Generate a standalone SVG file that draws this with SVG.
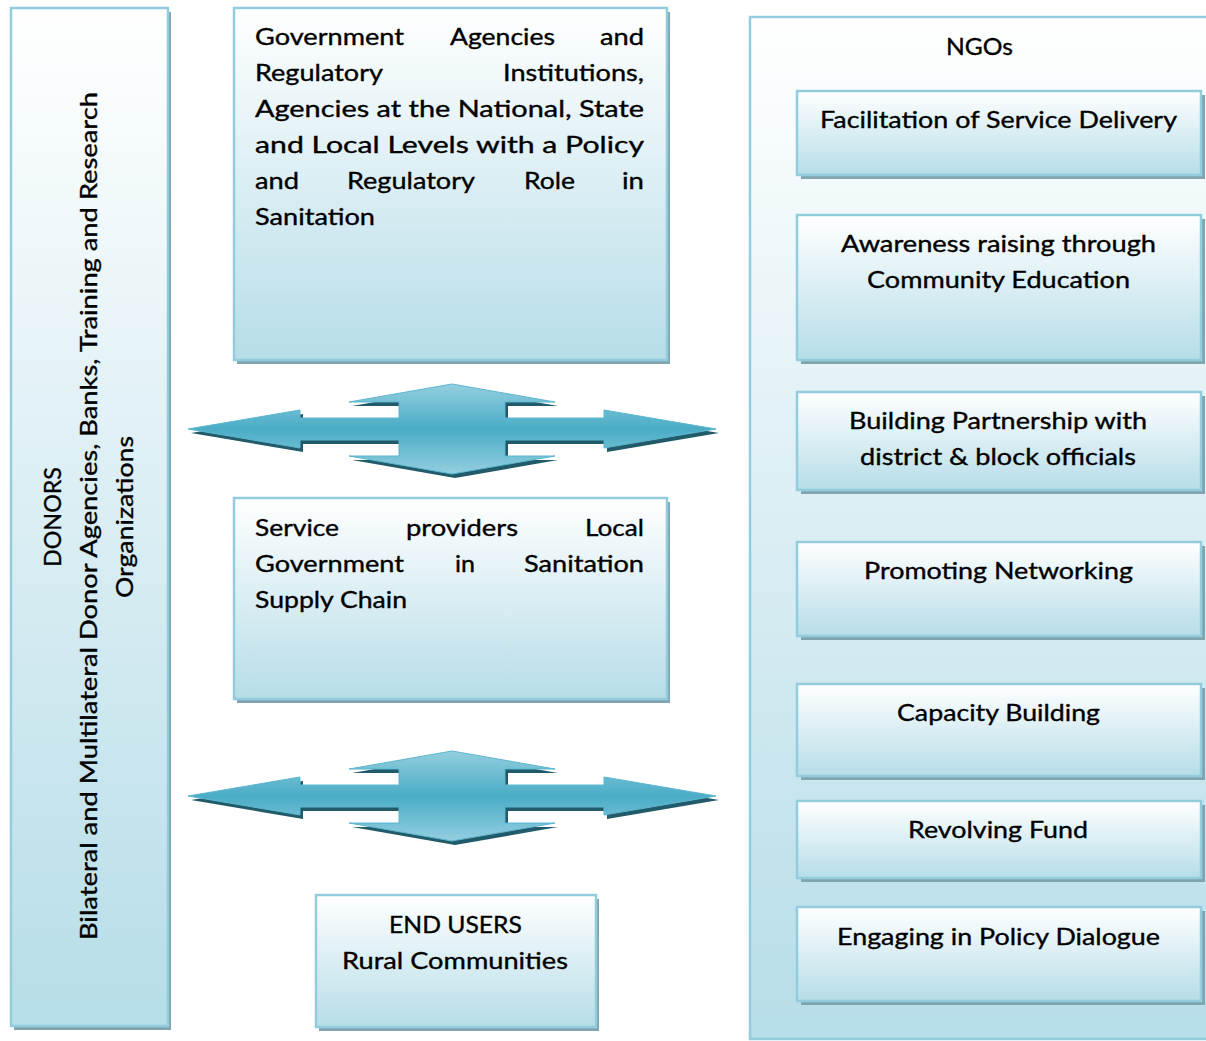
<svg xmlns="http://www.w3.org/2000/svg" width="1206" height="1041" viewBox="0 0 1206 1041">
<defs>
<linearGradient id="boxg" x1="0" y1="0" x2="0" y2="1">
<stop offset="0" stop-color="#ffffff"/>
<stop offset="1" stop-color="#b6dde8"/>
</linearGradient>
<linearGradient id="arrg" x1="0" y1="0" x2="0" y2="1">
<stop offset="0" stop-color="#93cfdf"/>
<stop offset="0.5" stop-color="#4aacc6"/>
<stop offset="1" stop-color="#93cfdf"/>
</linearGradient>
<path id="arrow" d="M-264,0 L-152,-19 L-152,-11 L-53,-11 L-53,-27 L-103,-27 L0,-45 L103,-27 L53,-27 L53,-11 L152,-11 L152,-19 L264,0 L152,19 L152,11 L53,11 L53,27 L103,27 L0,45 L-103,27 L-53,27 L-53,11 L-152,11 L-152,19 Z"/>
<clipPath id="page"><rect x="0" y="0" width="1206" height="1041"/></clipPath>
</defs>
<style>
.box{fill:url(#boxg);stroke:#93cddd;stroke-width:2.5}
.sh{fill:#7fa5af}
.t{font-family:Lato,"Open Sans","Liberation Sans",sans-serif;font-size:23px;fill:#000;stroke:#000;stroke-width:0.35}
.c{text-anchor:middle}
.e{text-anchor:end}
</style>

<g id="donors">
<rect class="sh" x="14" y="12" width="157" height="1018"/>
<rect class="box" x="11" y="8" width="157" height="1018"/>
<text class="t c" transform="translate(61,517) rotate(-90)" textLength="100" lengthAdjust="spacingAndGlyphs">DONORS</text>
<text class="t c" transform="translate(97,516) rotate(-90)" textLength="848" lengthAdjust="spacingAndGlyphs">Bilateral and Multilateral Donor Agencies, Banks, Training and Research</text>
<text class="t c" transform="translate(133,517) rotate(-90)" textLength="162" lengthAdjust="spacingAndGlyphs">Organizations</text>
</g>

<g id="government">
<rect class="sh" x="237" y="12" width="433" height="352"/>
<rect class="box" x="234" y="8" width="433" height="352"/>
<text class="t" x="255" y="45" textLength="149" lengthAdjust="spacingAndGlyphs">Government</text>
<text class="t" x="450" y="45" textLength="105" lengthAdjust="spacingAndGlyphs">Agencies</text>
<text class="t e" x="644" y="45" textLength="44" lengthAdjust="spacingAndGlyphs">and</text>
<text class="t" x="255" y="81" textLength="128" lengthAdjust="spacingAndGlyphs">Regulatory</text>
<text class="t e" x="644" y="81" textLength="141" lengthAdjust="spacingAndGlyphs">Institutions,</text>
<text class="t" x="255" y="117" textLength="389" lengthAdjust="spacingAndGlyphs">Agencies at the National, State</text>
<text class="t" x="255" y="153" textLength="389" lengthAdjust="spacingAndGlyphs">and Local Levels with a Policy</text>
<text class="t" x="255" y="189" textLength="44" lengthAdjust="spacingAndGlyphs">and</text>
<text class="t" x="347" y="189" textLength="128" lengthAdjust="spacingAndGlyphs">Regulatory</text>
<text class="t" x="524" y="189" textLength="51" lengthAdjust="spacingAndGlyphs">Role</text>
<text class="t e" x="644" y="189" textLength="22" lengthAdjust="spacingAndGlyphs">in</text>
<text class="t" x="255" y="225" textLength="120" lengthAdjust="spacingAndGlyphs">Sanitation</text>
</g>

<g id="service">
<rect class="sh" x="237" y="502" width="433" height="201"/>
<rect class="box" x="234" y="498" width="433" height="201"/>
<text class="t" x="255" y="536" textLength="84" lengthAdjust="spacingAndGlyphs">Service</text>
<text class="t" x="406" y="536" textLength="112" lengthAdjust="spacingAndGlyphs">providers</text>
<text class="t e" x="644" y="536" textLength="59" lengthAdjust="spacingAndGlyphs">Local</text>
<text class="t" x="255" y="572" textLength="149" lengthAdjust="spacingAndGlyphs">Government</text>
<text class="t" x="455" y="572" textLength="20" lengthAdjust="spacingAndGlyphs">in</text>
<text class="t e" x="644" y="572" textLength="120" lengthAdjust="spacingAndGlyphs">Sanitation</text>
<text class="t" x="255" y="608" textLength="152" lengthAdjust="spacingAndGlyphs">Supply Chain</text>
</g>

<g id="endusers">
<rect class="sh" x="319" y="899" width="280" height="132"/>
<rect class="box" x="316" y="895" width="280" height="132"/>
<text class="t c" x="455.5" y="933" textLength="133" lengthAdjust="spacingAndGlyphs">END USERS</text>
<text class="t c" x="455" y="969" textLength="226" lengthAdjust="spacingAndGlyphs">Rural Communities</text>
</g>

<g id="ngos" clip-path="url(#page)">
<rect class="box" x="750" y="17" width="480" height="1022"/>
<text class="t c" x="979.5" y="55" textLength="67" lengthAdjust="spacingAndGlyphs">NGOs</text>
</g>

<g id="ngo-facilitation">
<rect class="sh" x="801" y="95" width="404" height="84"/>
<rect class="box" x="797" y="91" width="404" height="84"/>
<text class="t c" x="998.5" y="128" textLength="357" lengthAdjust="spacingAndGlyphs">Facilitation of Service Delivery</text>
</g>

<g id="ngo-awareness">
<rect class="sh" x="801" y="219" width="404" height="145"/>
<rect class="box" x="797" y="215" width="404" height="145"/>
<text class="t c" x="998.5" y="252" textLength="315" lengthAdjust="spacingAndGlyphs">Awareness raising through</text>
<text class="t c" x="998.5" y="288" textLength="263" lengthAdjust="spacingAndGlyphs">Community Education</text>
</g>

<g id="ngo-partnership">
<rect class="sh" x="801" y="396" width="404" height="98"/>
<rect class="box" x="797" y="392" width="404" height="98"/>
<text class="t c" x="998" y="429" textLength="298" lengthAdjust="spacingAndGlyphs">Building Partnership with</text>
<text class="t c" x="998" y="465" textLength="276" lengthAdjust="spacingAndGlyphs">district &amp; block officials</text>
</g>

<g id="ngo-networking">
<rect class="sh" x="801" y="546" width="404" height="94"/>
<rect class="box" x="797" y="542" width="404" height="94"/>
<text class="t c" x="998.5" y="579" textLength="269" lengthAdjust="spacingAndGlyphs">Promoting Networking</text>
</g>

<g id="ngo-capacity">
<rect class="sh" x="801" y="688" width="404" height="92"/>
<rect class="box" x="797" y="684" width="404" height="92"/>
<text class="t c" x="998.5" y="721" textLength="203" lengthAdjust="spacingAndGlyphs">Capacity Building</text>
</g>

<g id="ngo-revolving">
<rect class="sh" x="801" y="805" width="404" height="77"/>
<rect class="box" x="797" y="801" width="404" height="77"/>
<text class="t c" x="998" y="838" textLength="180" lengthAdjust="spacingAndGlyphs">Revolving Fund</text>
</g>

<g id="ngo-policy">
<rect class="sh" x="801" y="911" width="404" height="94"/>
<rect class="box" x="797" y="907" width="404" height="94"/>
<text class="t c" x="998.5" y="945" textLength="323" lengthAdjust="spacingAndGlyphs">Engaging in Policy Dialogue</text>
</g>

<g id="connectors">
<use href="#arrow" transform="translate(455,433)" fill="#215a69"/>
<use href="#arrow" transform="translate(452,429)" fill="url(#arrg)" stroke="#5bb6cf" stroke-width="1"/>
<use href="#arrow" transform="translate(455,800)" fill="#215a69"/>
<use href="#arrow" transform="translate(452,796)" fill="url(#arrg)" stroke="#5bb6cf" stroke-width="1"/>
</g>
</svg>
